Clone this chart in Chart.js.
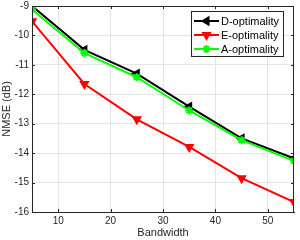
<!DOCTYPE html>
<html>
<head>
<meta charset="utf-8">
<script src="https://cdn.jsdelivr.net/npm/chart.js@4"></script>
<style>
  html, body { margin: 0; padding: 0; background: #fff; }
  #wrap { width: 300px; height: 240px; }
</style>
</head>
<body>
<div id="wrap"><canvas id="myChart" width="300" height="240"></canvas></div>
<script>
// bandwidth values on the x axis
const bandwidth = [5, 15, 25, 35, 45, 55];
// NMSE (dB) for each design
const dOpt = [-9.0, -10.49, -11.3, -12.42, -13.5, -14.18];
const eOpt = [-9.52, -11.65, -12.85, -13.79, -14.85, -15.66];
const aOpt = [-9.12, -10.6, -11.42, -12.55, -13.56, -14.26];
const xTicks = [10, 20, 30, 40, 50];
const yTicks = [-16, -15, -14, -13, -12, -11, -10, -9];

const font = "'Liberation Sans', Arial, sans-serif";
const axisCol = '#262626';

function pts(ys) {
  return bandwidth.map((x, i) => ({ x: x, y: ys[i] }));
}

// the three series, with their marker styles
const series = [
  { label: 'D-optimality', data: dOpt, color: '#000000', style: 'triangle', rot: -90, order: 2 },
  { label: 'E-optimality', data: eOpt, color: '#ff0000', style: 'triangle', rot: 180, order: 1 },
  { label: 'A-optimality', data: aOpt, color: '#00ff00', style: 'star', rot: 0, order: 0 }
];

// frame round the plot + legend box like matlab
const framePlugin = {
  id: 'frame',
  afterDraw(chart) {
    const c = chart.ctx;
    const a = chart.chartArea;
    c.save();
    c.strokeStyle = axisCol;
    c.lineWidth = 1;
    c.strokeRect(a.left + 0.5, a.top + 0.5, a.right - a.left - 1, a.bottom - a.top);

    // small inward ticks
    c.beginPath();
    xTicks.forEach(v => {
      const px = Math.round(chart.scales.x.getPixelForValue(v)) + 0.5;
      c.moveTo(px, a.bottom); c.lineTo(px, a.bottom - 3);
      c.moveTo(px, a.top); c.lineTo(px, a.top + 3);
    });
    yTicks.forEach(v => {
      const py = Math.round(chart.scales.y.getPixelForValue(v)) + 0.5;
      c.moveTo(a.left, py); c.lineTo(a.left + 3, py);
      c.moveTo(a.right, py); c.lineTo(a.right - 3, py);
    });
    c.stroke();

    // legend
    const lx = 191, ly = 11, lw = 92, lh = 45;
    c.fillStyle = '#fff';
    c.fillRect(lx, ly, lw, lh);
    c.strokeStyle = axisCol;
    c.strokeRect(lx + 0.5, ly + 0.5, lw, lh);
    series.forEach((s, i) => {
      const yy = ly + 10 + i * 14;
      c.strokeStyle = s.color;
      c.lineWidth = 2;
      c.beginPath();
      c.moveTo(lx + 3, yy);
      c.lineTo(lx + 28, yy);
      c.stroke();
      c.fillStyle = s.color;
      Chart.helpers.drawPoint(c, { pointStyle: s.style, rotation: s.rot, radius: 4, borderWidth: 2 }, lx + 15.5, yy);
      c.fillStyle = '#000';
      c.font = '11px ' + font;
      c.textBaseline = 'middle';
      c.fillText(s.label, lx + 30, yy + 0.5);
    });
    c.restore();
  }
};

new Chart(document.getElementById('myChart'), {
  type: 'line',
  data: {
    datasets: series.map(s => ({
      label: s.label,
      data: pts(s.data),
      borderColor: s.color,
      backgroundColor: s.color,
      borderWidth: 2,
      pointStyle: s.style,
      rotation: s.rot,
      pointRadius: 4,
      pointBorderWidth: 2,
      tension: 0,
      order: s.order
    }))
  },
  plugins: [framePlugin],
  options: {
    animation: false,
    responsive: false,
    layout: { padding: { top: 5, right: 6, left: 0, bottom: 0 } },
    plugins: { legend: { display: false }, tooltip: { enabled: false } },
    scales: {
      x: {
        type: 'linear',
        min: 5,
        max: 55,
        afterBuildTicks: ax => { ax.ticks = xTicks.map(v => ({ value: v })); },
        afterFit: ax => { ax.height = 28; },
        grid: { color: '#e5e5e5', drawTicks: false },
        border: { color: axisCol },
        ticks: { color: axisCol, font: { family: font, size: 10 }, padding: 3 },
        title: { display: true, text: 'Bandwidth', color: axisCol, font: { family: font, size: 11 }, padding: { top: 0, bottom: 0 } }
      },
      y: {
        min: -16,
        max: -9,
        afterBuildTicks: ax => { ax.ticks = yTicks.map(v => ({ value: v })); },
        afterFit: ax => { ax.width = 32; ax.paddingTop = 0; ax.paddingBottom = 0; },
        grid: { color: '#e5e5e5', drawTicks: false },
        border: { color: axisCol },
        ticks: { color: axisCol, font: { family: font, size: 10 }, padding: 3 },
        title: { display: true, text: 'NMSE (dB)', color: axisCol, font: { family: font, size: 11 }, padding: { top: 0, bottom: 1 } }
      }
    }
  }
});
</script>
</body>
</html>
